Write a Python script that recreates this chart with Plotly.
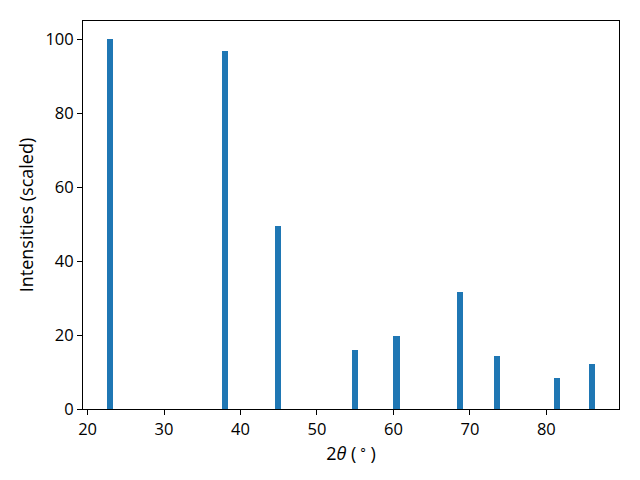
import plotly.graph_objects as go

two_theta = [22.9, 38.0, 44.9, 55.0, 60.4, 68.7, 73.5, 81.4, 86.0]
intensity = [100.0, 96.9, 49.6, 15.9, 19.7, 31.7, 14.3, 8.3, 12.1]
bar_width = 0.8

FONT = "Open Sans"

fig = go.Figure(go.Bar(
    x=two_theta, y=intensity, width=[bar_width] * len(two_theta),
    marker=dict(color="#1f77b4", line=dict(width=0)),
))

axis_common = dict(
    showline=True, linecolor="black", linewidth=1, mirror=True,
    ticks="outside", ticklen=5, tickwidth=1, tickcolor="black",
    showgrid=False, zeroline=False,
    tickfont=dict(family=FONT, size=16.5, color="black"),
)

fig.update_layout(
    width=640, height=480,
    margin=dict(l=83, r=21, t=21, b=71, autoexpand=False),
    paper_bgcolor="white", plot_bgcolor="white",
    showlegend=False, bargap=0,
    font=dict(family=FONT, size=16.5, color="black"),
    xaxis=dict(range=[19.4, 89.5], tickvals=[20, 30, 40, 50, 60, 70, 80],
               title=dict(text="2<i>θ</i> (\u2009<sup>∘</sup>\u2009)", standoff=5,
                          font=dict(family=FONT, size=18, color="black")),
               **axis_common),
    yaxis=dict(range=[0, 105], tickvals=[0, 20, 40, 60, 80, 100],
               title=dict(text="Intensities (scaled)", standoff=7,
                          font=dict(family=FONT, size=18, color="black")),
               **axis_common),
)

fig.write_html("out.html", post_script="document.body.style.margin='0';",
               config={"displayModeBar": False})
